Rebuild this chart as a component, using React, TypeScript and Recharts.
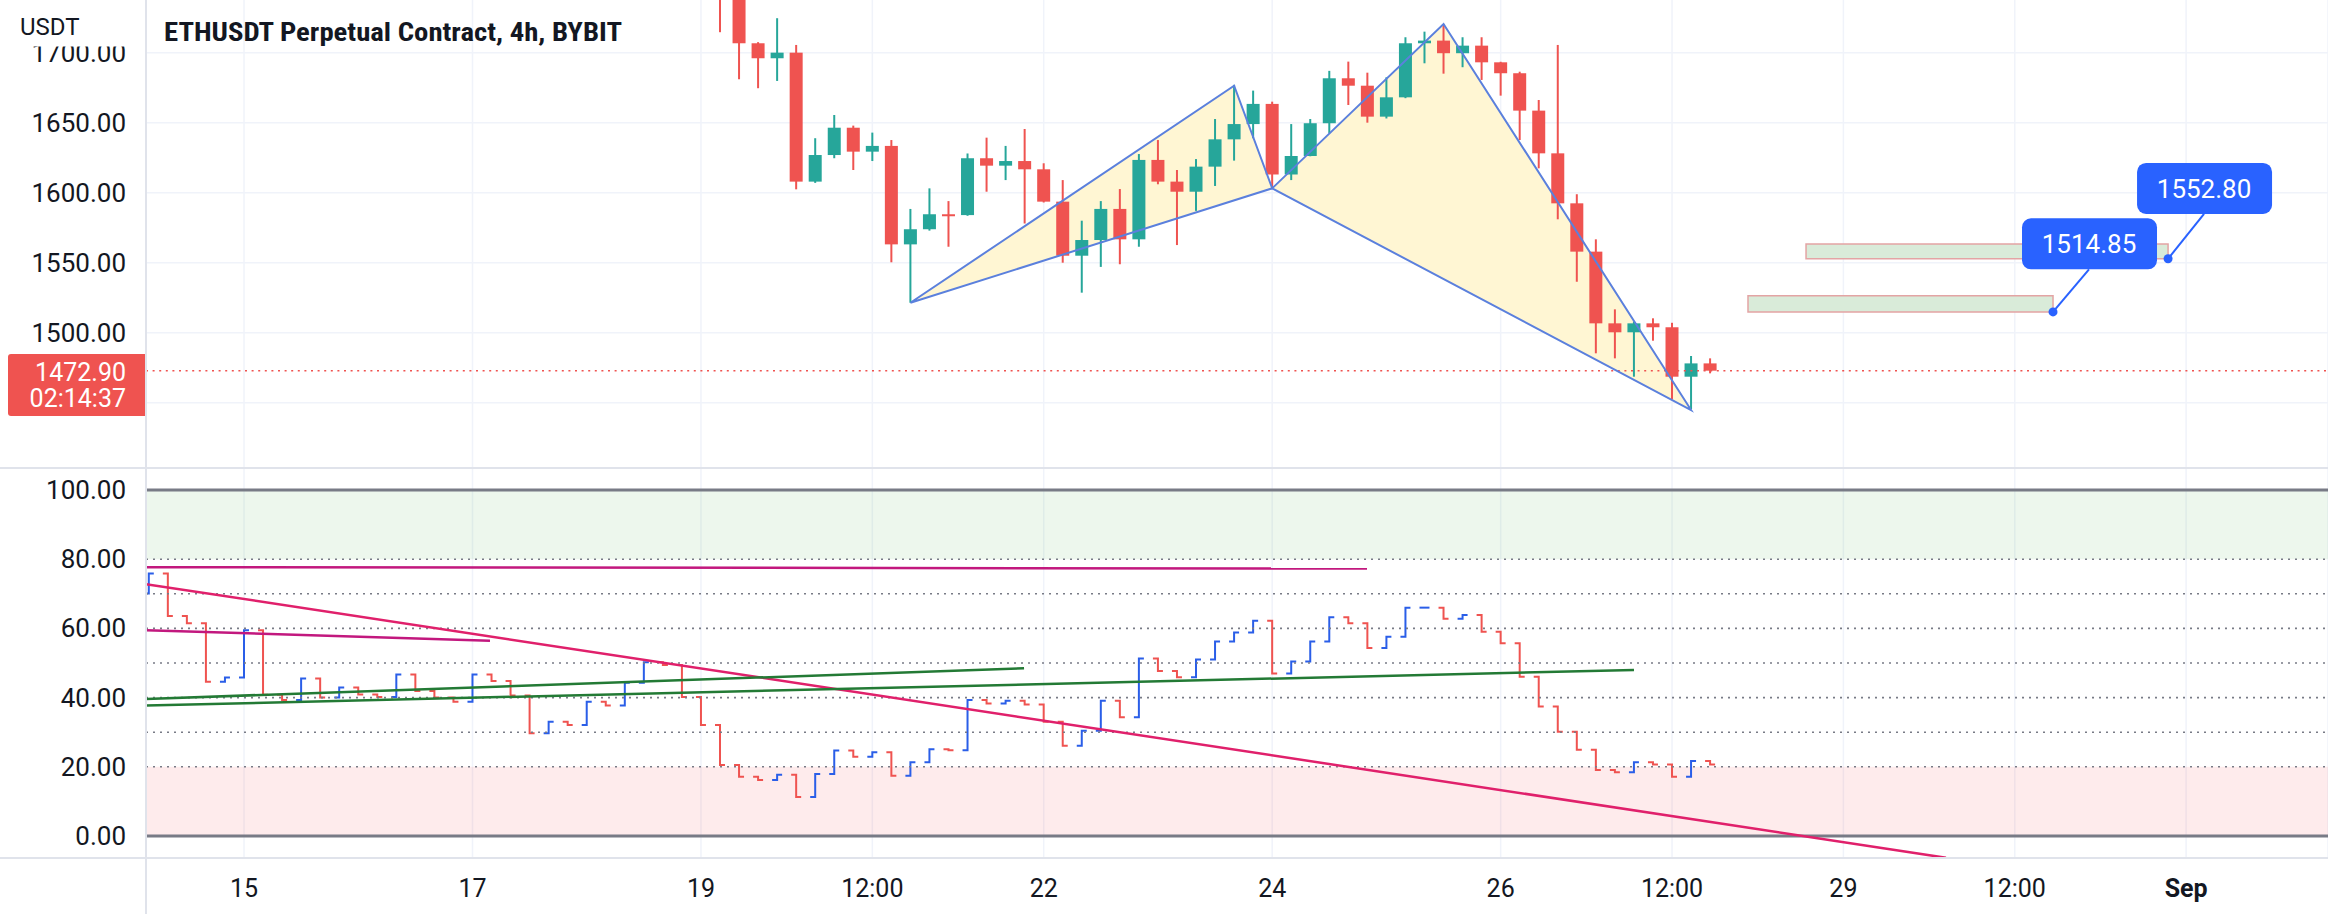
import React from "react";
import {
  ComposedChart,
  Bar,
  Area,
  Line,
  XAxis,
  YAxis,
  CartesianGrid,
  ReferenceLine,
  ReferenceArea,
  ReferenceDot,
} from "recharts";

const WIDTH = 2328;
const PRICE_H = 468;
const OSC_H = 446;
const AXIS_W = 146;

const UP = "#26a69a";
const DOWN = "#ef5350";
const OSC_UP = "#2a5ee8";
const OSC_DOWN = "#ef5350";
const TEXT = "#131722";
const FONT = "Roboto, 'Liberation Sans', sans-serif";

// x = day of August (32 = 1 Sep). First bar is 14 Aug 04:00, one bar every 4h.
const FIRST_BAR = 14 + 4 / 24;
const BAR = 4 / 24;
const X_DOMAIN = [14.142, 33.242];

const dayTicks = [15, 17, 19, 20.5, 22, 24, 26, 27.5, 29, 30.5, 32];
const dayLabels = ["15", "17", "19", "12:00", "22", "24", "26", "12:00", "29", "12:00", "Sep"];
const priceGrid = [1450, 1500, 1550, 1600, 1650, 1700];
// 1450.00 sits under the last-price tag, so it gets a grid line but no label
const priceTicks = [1500, 1550, 1600, 1650, 1700];
const levelTicks = [0, 20, 40, 60, 80, 100];
const dottedLevels = [20, 30, 40, 50, 60, 70, 80];

// candles from 19 Aug 04:00 (bar 30) to 27 Aug 20:00
const CANDLE_START = 30;
const opens = [1768, 1745, 1706.7, 1696, 1700, 1607.9, 1626.9, 1646.4, 1629.3, 1633.4, 1563.1, 1573.9, 1584.6, 1584, 1624.6, 1619.3, 1622.6, 1616.7, 1593.6, 1555, 1566.2, 1588.4, 1566.7, 1623.4, 1607.9, 1600.7, 1618.6, 1638.1, 1649, 1663.4, 1613, 1626.2, 1649.6, 1681.7, 1676.4, 1654.3, 1668.1, 1706.7, 1708.6, 1699.6, 1705, 1693.1, 1685.3, 1658.6, 1628.1, 1592.4, 1557.9, 1506.7, 1500.3, 1506.7, 1503.9, 1468.6, 1478.1];
const highs = [1786, 1750, 1707.5, 1724.6, 1705.5, 1638.9, 1655.5, 1647.9, 1642.9, 1637.6, 1588.4, 1603.1, 1594, 1628, 1639.3, 1633.4, 1645.5, 1621, 1609, 1580, 1594, 1602.6, 1627.6, 1637.6, 1616.2, 1624, 1652.6, 1677, 1672.9, 1665, 1649, 1652.6, 1687, 1693.6, 1685.7, 1682.4, 1711, 1715, 1720.5, 1711, 1711, 1693.5, 1686.4, 1666.2, 1705.5, 1598.9, 1566.7, 1516.7, 1508, 1510.3, 1507.1, 1483.4, 1481.7];
const lows = [1714.6, 1681, 1674.6, 1679.8, 1602.4, 1607, 1624.6, 1616.2, 1622.6, 1550.3, 1521.4, 1572.9, 1561.4, 1583.5, 1600.7, 1609, 1578, 1593, 1550, 1528.6, 1547, 1548.9, 1561.4, 1606, 1562.6, 1587, 1604.8, 1622.9, 1638.9, 1603.1, 1609, 1626, 1642.4, 1662.6, 1650, 1653, 1667.5, 1692.4, 1685, 1689.6, 1680.5, 1669.3, 1637.6, 1617.4, 1581, 1536.4, 1485.3, 1481.7, 1468.6, 1494.3, 1452.4, 1445.3, 1471];
const closes = [1745, 1706.7, 1696, 1700, 1607.9, 1626.9, 1646.4, 1629.3, 1633.4, 1563.1, 1573.9, 1584.6, 1584, 1624.6, 1619.3, 1622.6, 1616.7, 1593.6, 1555, 1566.2, 1588.4, 1566.7, 1623.4, 1607.9, 1600.7, 1618.6, 1638.1, 1649, 1663.4, 1613, 1626.2, 1649.6, 1681.7, 1676.4, 1654.3, 1668.1, 1706.7, 1708.6, 1699.6, 1705, 1693.1, 1685.3, 1658.6, 1628.1, 1592.4, 1557.9, 1506.7, 1500.3, 1506.7, 1503.9, 1468.6, 1478.1, 1472.9];
const lastPrice = 1472.9;

// oscillator, one value per bar from 14 Aug 04:00
const oscBefore = 70.1;
const oscValues = [75.9, 63.6, 61.5, 44.6, 45.8, 59.5, 40.8, 39.3, 45.5, 40.0, 42.9, 40.9, 40.2, 46.7, 41.9, 40.0, 38.8, 46.7, 44.8, 40.6, 29.7, 33.0, 32.1, 38.8, 37.7, 44.3, 50.2, 49.4, 40.2, 32.1, 20.5, 17.1, 16.2, 17.7, 11.3, 17.9, 24.7, 22.9, 24.2, 17.4, 21.3, 25.1, 24.8, 39.3, 38.3, 39.1, 38.0, 33.0, 26.1, 30.4, 39.1, 34.3, 51.3, 47.7, 45.9, 51.0, 56.2, 58.8, 62.2, 47.0, 50.4, 56.2, 63.2, 61.5, 54.3, 57.6, 66.0, 66.0, 62.8, 63.9, 59.0, 55.7, 46.0, 37.4, 30.1, 24.9, 19.1, 18.4, 21.3, 20.7, 17.1, 21.7, 20.7];

// XABCD pattern (bar index, price)
const patternBars = [40, 57, 59, 68, 81];
const patternPrices = [1521.4, 1676.4, 1603.1, 1720.5, 1444.8];

// target zones [t1, t2] x [p1, p2]
const zoneTimes = [[28.165, 30.835], [28.673, 31.842]];
const zonePrices = [[1514.85, 1526.4], [1552.8, 1563.4]];
const tagLabels = ["1514.85", "1552.80"];
const tagAnchors = [[31.15, 1545.3], [32.157, 1584.8]];

// oscillator drawings [[t, v], [t, v]]
const magentaFlat = [[14.142, 77.7], [24.83, 77.3]];
const magentaShort = [[14.142, 59.5], [17.153, 56.4]];
const pinkFalling = [[14.142, 72.8], [29.898, -6.3]];
const greenUpper = [[14.142, 39.6], [21.828, 48.5]];
const greenLower = [[14.142, 37.7], [27.167, 48.0]];

const candles = opens.map((open, i) => ({
  t: FIRST_BAR + (CANDLE_START + i) * BAR,
  open,
  high: highs[i],
  low: lows[i],
  close: closes[i],
}));

const oscData = oscValues.map((cur, i) => ({
  t: FIRST_BAR + i * BAR,
  cur,
  prev: i === 0 ? oscBefore : oscValues[i - 1],
}));

const pts = patternBars.map((b, i) => ({ t: FIRST_BAR + b * BAR, p: patternPrices[i] }));
const [pX, pA, pB, pC, pD] = pts;
const along = (P: any, Q: any, t: number) => P.p + ((Q.p - P.p) * (t - P.t)) / (Q.t - P.t);
const patternFill = [
  { t: pX.t, band: [pX.p, pX.p] },
  { t: pA.t, band: [along(pX, pB, pA.t), pA.p] },
  { t: pB.t, band: [pB.p, pB.p] },
  { t: pC.t, band: [along(pB, pD, pC.t), pC.p] },
  { t: pD.t, band: [pD.p, pD.p] },
];
const patternPath = [pX, pA, pB, pC, pD, pB, pX];

const Candle = (props: any) => {
  const { x, y, width, height, payload } = props;
  if (!payload || width == null) return null;
  const top = Math.min(y, y + height);
  const bottom = Math.max(y, y + height);
  const { open, high, low, close } = payload;
  const k = (bottom - top) / (high - low);
  const yOf = (v: number) => top + (high - v) * k;
  const cx = x + width / 2;
  const color = close >= open ? UP : DOWN;
  const bt = Math.min(yOf(open), yOf(close));
  const bb = Math.max(yOf(open), yOf(close));
  return (
    <g>
      <line x1={cx} x2={cx} y1={top} y2={bottom} stroke={color} strokeWidth={2} />
      <rect x={cx - 6.5} y={bt} width={13} height={Math.max(bb - bt, 2)} fill={color} />
    </g>
  );
};

const Step = (props: any) => {
  const { x, y, width, height, payload } = props;
  if (!payload || width == null) return null;
  const top = Math.min(y, y + height);
  const bottom = Math.max(y, y + height);
  const rising = payload.cur >= payload.prev;
  const yCur = rising ? top : bottom;
  const yPrev = rising ? bottom : top;
  const cx = x + width / 2;
  return (
    <path
      d={`M${cx - 5},${yPrev}H${cx}V${yCur}H${cx + 5}`}
      fill="none"
      stroke={rising ? OSC_UP : OSC_DOWN}
      strokeWidth={2}
    />
  );
};

const PriceTick = (props: any) => (
  <text x={126} y={props.y} textAnchor="end" dominantBaseline="central" fontSize={26} fill={TEXT} fontFamily={FONT}>
    {Number(props.payload.value).toFixed(2)}
  </text>
);

const DayTick = (props: any) => {
  const label = dayLabels[dayTicks.indexOf(props.payload.value)];
  return (
    <text
      x={props.x}
      y={420}
      textAnchor="middle"
      dominantBaseline="central"
      fontSize={25}
      fontWeight={label === "Sep" ? 700 : 400}
      fill={TEXT}
      fontFamily={FONT}
    >
      {label}
    </text>
  );
};

const makeTag = (label: string) => (props: any) => {
  const { cx, cy } = props;
  return (
    <g>
      <rect x={cx - 67} y={cy - 51} width={135} height={51} rx={9} fill="#2962ff" />
      <text x={cx} y={cy - 25} textAnchor="middle" dominantBaseline="central" fill="#fff" fontSize={26} fontFamily={FONT}>
        {label}
      </text>
    </g>
  );
};

const seg = (s: number[][]) => [
  { x: s[0][0], y: s[0][1] },
  { x: s[1][0], y: s[1][1] },
];

export default function App() {
  return (
    <div style={{ position: "absolute", left: 0, top: 0, width: WIDTH, height: 914, background: "#fff", overflow: "hidden" }}>
      <div style={{ position: "absolute", left: 0, top: 0 }}>
        <ComposedChart width={WIDTH} height={PRICE_H} data={candles} margin={{ top: 0, right: 0, bottom: 0, left: 0 }}>
          <CartesianGrid stroke="#f0f3fa" strokeWidth={1.5} horizontalValues={priceGrid} />
          <XAxis dataKey="t" type="number" domain={X_DOMAIN} allowDataOverflow ticks={dayTicks} hide />
          <YAxis
            type="number"
            domain={[1403.4, 1737.6]}
            allowDataOverflow
            ticks={priceTicks}
            interval={0}
            width={AXIS_W}
            axisLine={false}
            tickLine={false}
            tick={<PriceTick />}
          />
          <Area
            data={patternFill}
            dataKey="band"
            type="linear"
            fill="#fff6d3"
            fillOpacity={1}
            stroke="none"
            dot={false}
            activeDot={false}
            isAnimationActive={false}
          />
          <ReferenceLine y={lastPrice} stroke="#ef5350" strokeWidth={1.6} strokeDasharray="2 4.6" />
          {zoneTimes.map((z, i) => (
            <ReferenceArea
              key={`zone-${i}`}
              x1={z[0]}
              x2={z[1]}
              y1={zonePrices[i][0]}
              y2={zonePrices[i][1]}
              fill="#d9ebd9"
              fillOpacity={1}
              stroke="#e3a4a4"
              strokeWidth={1.5}
            />
          ))}
          <Bar dataKey={(d: any) => [d.low, d.high]} shape={<Candle />} barSize={19} isAnimationActive={false} />
          <Line
            data={patternPath}
            dataKey="p"
            type="linear"
            stroke="#5b80dd"
            strokeWidth={2}
            dot={false}
            activeDot={false}
            isAnimationActive={false}
          />
          {tagAnchors.map((a, i) => (
            <ReferenceLine
              key={`tagline-${i}`}
              segment={[
                { x: zoneTimes[i][1], y: zonePrices[i][0] },
                { x: a[0], y: a[1] },
              ]}
              stroke="#2962ff"
              strokeWidth={2}
              ifOverflow="visible"
            />
          ))}
          {zoneTimes.map((z, i) => (
            <ReferenceDot key={`dot-${i}`} x={z[1]} y={zonePrices[i][0]} r={4.5} fill="#2962ff" stroke="none" ifOverflow="visible" />
          ))}
          {tagAnchors.map((a, i) => (
            <ReferenceDot key={`tag-${i}`} x={a[0]} y={a[1]} r={1} shape={makeTag(tagLabels[i])} ifOverflow="visible" />
          ))}
        </ComposedChart>
      </div>

      <div style={{ position: "absolute", left: 0, top: PRICE_H }}>
        <ComposedChart width={WIDTH} height={OSC_H} data={oscData} margin={{ top: 0, right: 0, bottom: 0, left: 0 }}>
          <CartesianGrid stroke="#f0f3fa" strokeWidth={1.5} horizontal={false} />
          <XAxis
            dataKey="t"
            type="number"
            domain={X_DOMAIN}
            allowDataOverflow
            ticks={dayTicks}
            interval={0}
            height={56}
            axisLine={false}
            tickLine={false}
            tick={<DayTick />}
          />
          <YAxis
            type="number"
            domain={[-6.36, 106.36]}
            allowDataOverflow
            ticks={levelTicks}
            interval={0}
            width={AXIS_W}
            axisLine={false}
            tickLine={false}
            tick={<PriceTick />}
          />
          <ReferenceArea y1={80} y2={100} fill="#4caf50" fillOpacity={0.1} stroke="none" />
          <ReferenceArea y1={0} y2={20} fill="#f23645" fillOpacity={0.1} stroke="none" />
          {dottedLevels.map((v) => (
            <ReferenceLine key={`lvl-${v}`} y={v} stroke="#787b86" strokeWidth={1.6} strokeDasharray="2 5" />
          ))}
          <ReferenceLine y={100} stroke="#787b86" strokeWidth={3} />
          <ReferenceLine y={0} stroke="#787b86" strokeWidth={3} />
          <ReferenceLine segment={seg(magentaFlat)} stroke="#c2187e" strokeWidth={2.5} ifOverflow="hidden" />
          <ReferenceLine segment={seg(magentaShort)} stroke="#c2187e" strokeWidth={2.5} ifOverflow="hidden" />
          <ReferenceLine segment={seg(pinkFalling)} stroke="#e0206b" strokeWidth={2.5} ifOverflow="hidden" />
          <ReferenceLine segment={seg(greenUpper)} stroke="#237a35" strokeWidth={2.5} ifOverflow="hidden" />
          <ReferenceLine segment={seg(greenLower)} stroke="#237a35" strokeWidth={2.5} ifOverflow="hidden" />
          <Bar
            dataKey={(d: any) => [Math.min(d.prev, d.cur), Math.max(d.prev, d.cur)]}
            shape={<Step />}
            barSize={19}
            isAnimationActive={false}
          />
        </ComposedChart>
      </div>

      <svg width={WIDTH} height={914} style={{ position: "absolute", left: 0, top: 0, pointerEvents: "none" }}>
        <rect x={0} y={0} width={145} height={46.5} fill="#fff" />
        <text x={20} y={35} fontSize={24} fill={TEXT} fontFamily={FONT}>USDT</text>
        <text
          x={164}
          y={40.5}
          fontSize={25}
          fontWeight={700}
          fill={TEXT}
          textLength={458}
          lengthAdjust="spacingAndGlyphs"
          fontFamily="'Liberation Sans Narrow', 'Roboto Condensed', Roboto, sans-serif"
        >
          ETHUSDT Perpetual Contract, 4h, BYBIT
        </text>
        <path d="M11,354 H146 V416 H11 Q8,416 8,413 V357 Q8,354 11,354 Z" fill="#ef5350" />
        <text x={126} y={381} textAnchor="end" fontSize={25} fill="#fff" fontFamily={FONT}>1472.90</text>
        <text x={126} y={407} textAnchor="end" fontSize={25} fill="#fff" fontFamily={FONT}>02:14:37</text>
        <line x1={0} x2={WIDTH} y1={468} y2={468} stroke="#e0e3eb" strokeWidth={2} />
        <line x1={0} x2={WIDTH} y1={858} y2={858} stroke="#e0e3eb" strokeWidth={2} />
        <line x1={146} x2={146} y1={0} y2={914} stroke="#e0e3eb" strokeWidth={2} />
      </svg>
    </div>
  );
}
